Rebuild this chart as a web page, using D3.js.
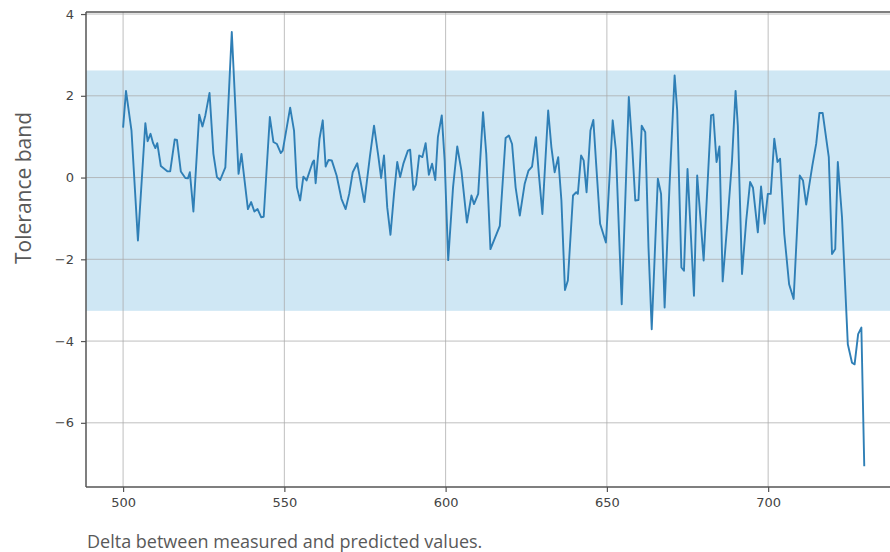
<!DOCTYPE html>
<html>
<head>
<meta charset="utf-8">
<script src="https://cdn.jsdelivr.net/npm/d3@7"></script>
<style>
  html, body { margin: 0; padding: 0; background: #fff; }
  svg { display: block; }
</style>
</head>
<body>
<svg id="chart" width="890" height="552"></svg>
<script>
// ---- data ----
const xs = [
  500.0, 500.9, 502.6, 504.6, 506.9, 507.6, 508.5, 509.3, 510.0, 510.6,
  511.7, 513.8, 514.6, 516.0, 516.7, 517.9, 519.3, 520.1, 520.7, 521.8,
  523.6, 524.6, 525.5, 526.8, 528.0, 529.1, 530.1, 531.7, 533.7, 535.8,
  536.7, 538.7, 539.7, 540.7, 541.7, 542.8, 543.6, 545.5, 546.6, 547.7,
  548.9, 549.5, 551.8, 553.0, 553.9, 554.9, 555.9, 556.9, 558.8, 559.2,
  559.7, 560.9, 561.9, 562.8, 563.7, 564.7, 566.2, 567.7, 569.0, 570.1,
  571.2, 572.6, 574.8, 576.5, 577.8, 579.1, 580.0, 580.9, 581.9, 582.9,
  584.0, 585.0, 585.9, 586.9, 588.3, 589.0, 590.0, 590.8, 591.8, 592.8,
  593.8, 594.8, 595.8, 596.8, 597.6, 598.8, 599.7, 600.8, 602.3, 603.6,
  604.9, 606.6, 608.0, 608.8, 610.1, 611.6, 612.6, 613.9, 616.8, 618.6,
  619.6, 620.6, 621.7, 623.0, 624.5, 625.7, 626.8, 628.0, 628.9, 630.0,
  631.8, 632.8, 633.8, 634.9, 635.9, 637.0, 637.9, 639.5, 640.5, 641.0,
  642.0, 642.8, 643.7, 644.9, 645.8, 646.6, 647.9, 649.7, 651.8, 652.8,
  654.6, 656.8, 657.8, 658.8, 659.8, 660.8, 661.9, 662.9, 663.9, 665.8,
  666.8, 667.9, 669.4, 671.0, 671.8, 673.1, 673.9, 675.0, 677.0, 678.0,
  680.0, 682.3, 683.0, 684.0, 684.9, 685.9, 687.5, 688.8, 689.9, 690.6,
  691.9, 693.2, 694.4, 695.3, 696.8, 697.8, 698.9, 699.9, 700.8, 701.9,
  702.9, 703.7, 705.0, 706.5, 707.9, 709.8, 710.8, 711.8, 713.7, 714.9,
  715.9, 716.9, 718.8, 719.8, 720.8, 721.6, 722.9, 724.7, 726.0, 726.8,
  727.9, 728.9, 729.8
];
const delta = [
  1.22, 2.12, 1.15, -1.54, 1.33, 0.89, 1.07, 0.84, 0.72, 0.84,
  0.28, 0.15, 0.15, 0.93, 0.92, 0.15, -0.01, -0.02, 0.13, -0.83,
  1.54, 1.25, 1.52, 2.07, 0.58, 0.01, -0.06, 0.25, 3.56, 0.09,
  0.58, -0.77, -0.60, -0.83, -0.77, -0.97, -0.96, 1.48, 0.87, 0.82,
  0.60, 0.66, 1.71, 1.15, -0.24, -0.56, 0.02, -0.07, 0.38, 0.42,
  -0.14, 0.95, 1.40, 0.27, 0.43, 0.42, 0.05, -0.52, -0.77, -0.40,
  0.13, 0.35, -0.60, 0.50, 1.27, 0.54, -0.01, 0.54, -0.73, -1.40,
  -0.40, 0.38, 0.01, 0.34, 0.66, 0.68, -0.30, -0.17, 0.54, 0.50,
  0.84, 0.07, 0.34, -0.06, 0.99, 1.52, 0.42, -2.02, -0.24, 0.76,
  0.17, -1.10, -0.44, -0.65, -0.40, 1.60, 0.58, -1.75, -1.18, 0.97,
  1.03, 0.82, -0.24, -0.93, -0.16, 0.17, 0.27, 0.99, 0.09, -0.89,
  1.64, 0.74, 0.13, 0.50, -0.56, -2.75, -2.52, -0.44, -0.36, -0.40,
  0.54, 0.42, -0.36, 1.15, 1.41, 0.42, -1.13, -1.59, 1.40, 0.66,
  -3.10, 1.97, 0.83, -0.56, -0.55, 1.27, 1.11, -1.71, -3.71, -0.03,
  -0.40, -3.18, -0.24, 2.50, 1.64, -2.20, -2.28, 0.21, -2.89, 0.05,
  -2.03, 1.52, 1.54, 0.38, 0.76, -2.54, -0.97, 0.42, 2.12, 1.27,
  -2.36, -1.05, -0.11, -0.25, -1.34, -0.22, -1.13, -0.40, -0.40, 0.95,
  0.38, 0.46, -1.38, -2.61, -2.97, 0.05, -0.07, -0.66, 0.29, 0.83,
  1.58, 1.58, 0.50, -1.87, -1.75, 0.38, -0.97, -4.08, -4.53, -4.57,
  -3.83, -3.67, -7.06
];
const toleranceBand = [-3.26, 2.62];
const xTicks = [500, 550, 600, 650, 700];
const yTicks = [-6, -4, -2, 0, 2, 4];
const xDomain = [488.5, 741.5];
const yDomain = [-7.57, 4.05];
const yLabel = "Tolerance band";
const caption = "Delta between measured and predicted values.";

// ---- layout ----
const svg = d3.select("#chart");
const W = 890, H = 552;
const plot = { left: 86, top: 12, right: 902, bottom: 487 };

const x = d3.scaleLinear().domain(xDomain).range([plot.left, plot.right]);
const y = d3.scaleLinear().domain(yDomain).range([plot.bottom, plot.top]);

svg.append("rect").attr("width", W).attr("height", H).attr("fill", "#fff");

svg.append("defs").append("clipPath").attr("id", "clip")
  .append("rect")
  .attr("x", plot.left).attr("y", plot.top)
  .attr("width", plot.right - plot.left).attr("height", plot.bottom - plot.top);

const g = svg.append("g").attr("clip-path", "url(#clip)");

// tolerance band
g.append("rect")
  .attr("x", plot.left)
  .attr("width", plot.right - plot.left)
  .attr("y", y(toleranceBand[1]))
  .attr("height", y(toleranceBand[0]) - y(toleranceBand[1]))
  .attr("fill", "#cfe7f4");

// grid
g.selectAll(".vgrid").data(xTicks).join("line")
  .attr("x1", d => x(d)).attr("x2", d => x(d))
  .attr("y1", plot.top).attr("y2", plot.bottom)
  .attr("stroke", "#a9a9a9").attr("stroke-opacity", 0.75).attr("stroke-width", 1);
g.selectAll(".hgrid").data(yTicks).join("line")
  .attr("x1", plot.left).attr("x2", plot.right)
  .attr("y1", d => y(d)).attr("y2", d => y(d))
  .attr("stroke", "#a9a9a9").attr("stroke-opacity", 0.75).attr("stroke-width", 1);

// series line
const pts = xs.map((v, i) => [v, delta[i]]);
g.append("path")
  .datum(pts)
  .attr("fill", "none")
  .attr("stroke", "#2f7fb6")
  .attr("stroke-width", 1.9)
  .attr("stroke-linejoin", "round")
  .attr("d", d3.line().x(d => x(d[0])).y(d => y(d[1])));

// axes
const fontTick = "'DejaVu Sans', sans-serif";
const xAxis = svg.append("g")
  .attr("transform", `translate(0,${plot.bottom})`)
  .call(d3.axisBottom(x).tickValues(xTicks).tickSize(5).tickPadding(6).tickFormat(d3.format("d")));
const yAxis = svg.append("g")
  .attr("transform", `translate(${plot.left},0)`)
  .call(d3.axisLeft(y).tickValues(yTicks).tickSize(5).tickPadding(7)
    .tickFormat(d => (d < 0 ? "\u2212" + Math.abs(d) : String(d))));

[xAxis, yAxis].forEach(a => {
  a.select(".domain").remove();
  a.selectAll(".tick line").attr("stroke", "#555").attr("stroke-width", 1.2);
  a.selectAll(".tick text")
    .attr("fill", "#444")
    .style("font-family", fontTick)
    .style("font-size", "13px");
});

// spines (left, bottom, top)
svg.append("line").attr("x1", plot.left).attr("x2", plot.left)
  .attr("y1", plot.top).attr("y2", plot.bottom)
  .attr("stroke", "#555").attr("stroke-width", 1.5);
svg.append("line").attr("x1", plot.left).attr("x2", W)
  .attr("y1", plot.bottom).attr("y2", plot.bottom)
  .attr("stroke", "#555").attr("stroke-width", 1.5);
svg.append("line").attr("x1", plot.left).attr("x2", W)
  .attr("y1", plot.top).attr("y2", plot.top)
  .attr("stroke", "#555").attr("stroke-width", 1.5);

// y label
svg.append("text")
  .attr("transform", `translate(31,112) rotate(-90)`)
  .attr("text-anchor", "end")
  .attr("fill", "#595959")
  .style("font-family", "'Open Sans', sans-serif")
  .style("font-size", "21px")
  .text(yLabel);

// caption
svg.append("text")
  .attr("x", 87).attr("y", 548)
  .attr("fill", "#595959")
  .style("font-family", "'Open Sans', sans-serif")
  .style("font-size", "18px")
  .text(caption);
</script>
</body>
</html>
